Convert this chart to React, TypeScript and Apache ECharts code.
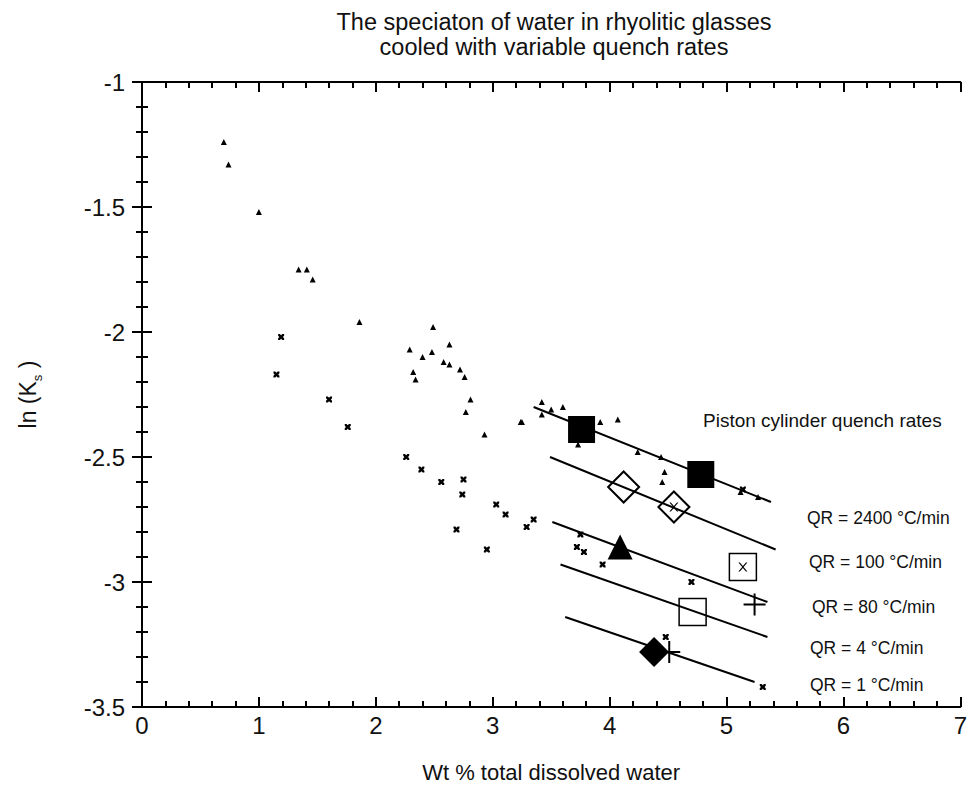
import React, { useEffect, useRef } from "react";
import * as echarts from "echarts";

// ---- data (x = Wt % total dissolved water, y = ln(Ks)) ----
const smallTriangles: number[][] = [
  [0.70, -1.24], [0.74, -1.33], [1.00, -1.52], [1.34, -1.75], [1.41, -1.75], [1.46, -1.79], [1.86, -1.96],
  [2.49, -1.98], [2.63, -2.05], [2.29, -2.07], [2.48, -2.08], [2.40, -2.10], [2.58, -2.12], [2.63, -2.13],
  [2.72, -2.15], [2.76, -2.18], [2.32, -2.16], [2.34, -2.19], [2.81, -2.27], [2.77, -2.32], [2.93, -2.41],
  [3.24, -2.36], [3.42, -2.28], [3.50, -2.31], [3.60, -2.30], [3.42, -2.33], [3.25, -2.36], [3.92, -2.36],
  [4.07, -2.35], [3.73, -2.45], [4.24, -2.48], [4.44, -2.50], [4.47, -2.56], [4.45, -2.60], [5.12, -2.64],
  [5.27, -2.66],
];

const smallCrosses: number[][] = [
  [1.19, -2.02], [1.15, -2.17], [1.60, -2.27], [1.76, -2.38], [2.26, -2.50], [2.39, -2.55], [2.56, -2.60],
  [2.75, -2.59], [2.74, -2.65], [2.69, -2.79], [2.95, -2.87], [3.03, -2.69], [3.11, -2.73], [3.29, -2.78],
  [3.35, -2.75], [3.75, -2.81], [3.72, -2.86], [3.78, -2.88], [3.94, -2.93], [4.70, -3.00], [4.48, -3.22],
  [5.31, -3.42], [5.14, -2.63],
];

const innerCrosses: number[][] = [[4.55, -2.70], [5.14, -2.94]];

const qr2400Squares: number[][] = [[3.76, -2.39], [4.78, -2.57]];
const qr100Diamonds: number[][] = [[4.12, -2.62], [4.55, -2.70]];
const qr80Triangles: number[][] = [[4.09, -2.86]];
const openSquares: number[][] = [[5.14, -2.94], [4.71, -3.12]];
const plusMarks: number[][] = [[5.24, -3.09], [4.51, -3.28]];
const qr1Diamonds: number[][] = [[4.38, -3.28]];

const fitQR2400: number[][] = [[3.35, -2.30], [5.38, -2.68]];
const fitQR100: number[][] = [[3.49, -2.50], [5.42, -2.87]];
const fitQR80: number[][] = [[3.51, -2.76], [5.35, -3.08]];
const fitQR4: number[][] = [[3.58, -2.93], [5.35, -3.22]];
const fitQR1: number[][] = [[3.62, -3.14], [5.24, -3.40]];

const titleLines: string[] = [
  "The speciaton of water in rhyolitic glasses",
  "cooled with variable quench rates",
];

const rateLabels: string[] = [
  "QR = 2400 °C/min",
  "QR = 100 °C/min",
  "QR = 80 °C/min",
  "QR = 4 °C/min",
  "QR = 1 °C/min",
];

const FONT = "'Liberation Sans', Arial, Helvetica, sans-serif";
const INK = "#000";

const X_MARK = "path://M0,0L3,0L5,2L7,0L10,0L10,3L8,5L10,7L10,10L7,10L5,8L3,10L0,10L0,7L2,5L0,3Z";
const THIN_X = "path://M0,0L1.6,0L5,3.9L8.4,0L10,0L5.8,5L10,10L8.4,10L5,6.1L1.6,10L0,10L4.2,5Z";
const PLUS = "path://M4.55,0L5.45,0L5.45,4.55L10,4.55L10,5.45L5.45,5.45L5.45,10L4.55,10L4.55,5.45L0,5.45L0,4.55L4.55,4.55Z";

export default function App() {
  const ref = useRef<HTMLDivElement>(null);

  useEffect(() => {
    if (!ref.current) return;
    const chart = echarts.init(ref.current, null, { renderer: "svg" });

    const axisCommon = {
      axisLine: { show: true, lineStyle: { color: INK, width: 2 } },
      axisTick: { show: true, inside: true, length: 10, lineStyle: { color: INK, width: 2 } },
      minorTick: { show: true, splitNumber: 5, length: 6, lineStyle: { color: INK, width: 2 } },
      splitLine: { show: false },
      minorSplitLine: { show: false },
    };

    const lineSeries = (data: number[][]) => ({
      type: "line",
      data,
      symbol: "none",
      lineStyle: { color: INK, width: 2 },
      z: 2,
      silent: true,
    });

    const scatter = (data: number[][], symbol: string, size: number, filled: boolean, z = 3, border = 1.5) => ({
      type: "scatter",
      data,
      symbol,
      symbolSize: size,
      itemStyle: filled
        ? { color: INK, borderWidth: 0, opacity: 1 }
        : { color: "rgba(0,0,0,0)", borderColor: INK, borderWidth: border, opacity: 1 },
      z,
    });

    const labelY = [518, 562, 607, 648, 685];
    const labelX = [807, 809, 812, 810, 810];

    chart.setOption({
      animation: false,
      backgroundColor: "#fff",
      textStyle: { fontFamily: FONT, color: INK },
      graphic: [
        ...titleLines.map((t, i) => ({
          type: "text",
          x: 554,
          y: 22 + i * 25,
          style: {
            text: t,
            fontFamily: FONT,
            fontSize: 23.5,
            fill: "#111",
            align: "center",
            verticalAlign: "middle",
          },
        })),
        {
          type: "text",
          x: 703,
          y: 420,
          style: {
            text: "Piston cylinder quench rates",
            fontFamily: FONT,
            fontSize: 19,
            fill: "#111",
            verticalAlign: "middle",
          },
        },
        ...rateLabels.map((t, i) => ({
          type: "text",
          x: labelX[i],
          y: labelY[i],
          style: {
            text: t,
            fontFamily: FONT,
            fontSize: 17.5,
            fill: "#111",
            verticalAlign: "middle",
            backgroundColor: "#fff",
          },
          z: 10,
        })),
      ],
      grid: { left: 142, right: 7, top: 82, bottom: 93, containLabel: false },
      xAxis: [
        {
          type: "value",
          min: 0,
          max: 7,
          interval: 1,
          position: "bottom",
          ...axisCommon,
          axisLabel: { fontFamily: FONT, fontSize: 24, color: "#111", margin: 6 },
          name: "Wt % total dissolved water",
          nameLocation: "middle",
          nameGap: 54,
          nameTextStyle: { fontFamily: FONT, fontSize: 22, color: "#111" },
        },
        {
          type: "value",
          min: 0,
          max: 7,
          interval: 1,
          position: "top",
          ...axisCommon,
          axisLabel: { show: false },
        },
      ],
      yAxis: [
        {
          type: "value",
          min: -3.5,
          max: -1,
          interval: 0.5,
          position: "left",
          ...axisCommon,
          axisLabel: { fontFamily: FONT, fontSize: 24, color: "#111", margin: 17 },
          name: "{a|ln (K}{s|s}{a| )}",
          nameLocation: "middle",
          nameGap: 98,
          nameTextStyle: {
            fontFamily: FONT,
            color: "#111",
            rich: {
              a: { fontFamily: FONT, fontSize: 23, color: "#111", lineHeight: 32, verticalAlign: "middle" },
              s: { fontFamily: FONT, fontSize: 13, color: "#111", lineHeight: 32, verticalAlign: "bottom" },
            },
          },
        },
        {
          type: "value",
          min: -3.5,
          max: -1,
          interval: 0.5,
          position: "right",
          ...axisCommon,
          axisLabel: { show: false },
        },
      ],
      series: [
        lineSeries(fitQR2400),
        lineSeries(fitQR100),
        lineSeries(fitQR80),
        lineSeries(fitQR4),
        lineSeries(fitQR1),
        scatter(smallTriangles, "triangle", 6, true),
        scatter(smallCrosses, X_MARK, 6, true),
        scatter(qr2400Squares, "rect", 27, true, 4),
        scatter(qr100Diamonds, "diamond", 31, false, 4, 2),
        scatter(qr80Triangles, "triangle", 25, true, 4),
        scatter(openSquares, "rect", 27, false, 4, 1.5),
        scatter(plusMarks, PLUS, 22, true, 4),
        scatter(qr1Diamonds, "diamond", 30, true, 4),
        scatter(innerCrosses, THIN_X, 9, true, 5),
      ],
    });

    return () => chart.dispose();
  }, []);

  return (
    <div
      ref={ref}
      style={{ position: "absolute", left: 0, top: 0, width: 970, height: 800, background: "#fff" }}
    />
  );
}
